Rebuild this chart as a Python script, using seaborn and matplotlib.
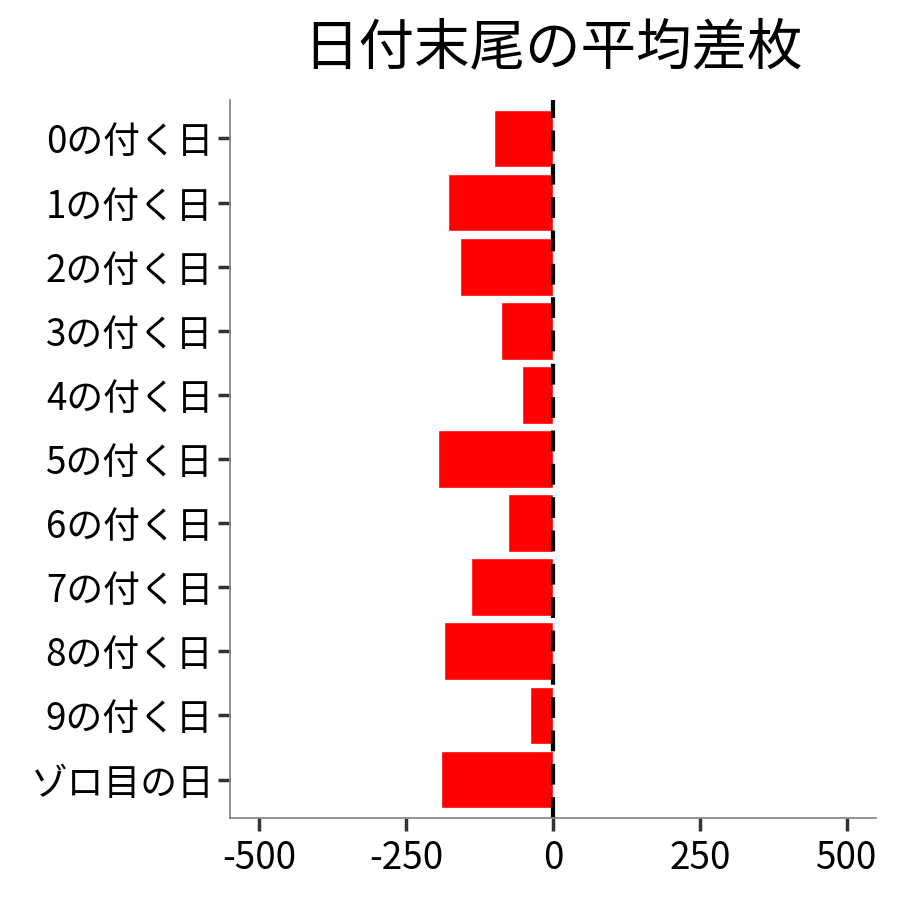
import numpy as np
import pandas as pd
import matplotlib
matplotlib.use("Agg")
import matplotlib.pyplot as plt
import seaborn as sb

# data
days = ["0の付く日", "1の付く日", "2の付く日", "3の付く日", "4の付く日", "5の付く日",
        "6の付く日", "7の付く日", "8の付く日", "9の付く日", "ゾロ目の日"]
avg_diff = [-100, -179, -158, -89, -52, -195, -77, -139, -186, -40, -190]
xticks = [-500, -250, 0, 250, 500]

df = pd.DataFrame({"day": days, "diff": avg_diff})

sb.set_style("white")
plt.rcParams['font.family'] = ['Noto Sans CJK JP', 'DejaVu Sans']

fig = plt.figure(figsize=(9, 9), dpi=100)
ax = fig.add_axes([230 / 900, 82 / 900, 646 / 900, 718 / 900])

sb.barplot(data=df, x="diff", y="day", color="#ff0000", saturation=1,
           width=0.9, orient="h", ax=ax)
ax.axvline(0, color="black", linestyle=(0, (5, 3)), linewidth=3)

ax.set_xlim(-550, 550)
ax.set_ylim(len(days) - 0.4, -0.6)
ax.set_xticks(xticks)
ax.set_xticklabels([str(t) for t in xticks])
ax.set_xlabel("")
ax.set_ylabel("")
ax.set_title("日付末尾の平均差枚", fontsize=40, pad=26, color="black")

for s in ["top", "right"]:
    ax.spines[s].set_visible(False)
for s in ["left", "bottom"]:
    ax.spines[s].set_color("#808080")
    ax.spines[s].set_linewidth(1.2)
ax.tick_params(axis="both", bottom=True, left=True, length=9, width=2.5,
               color="#333333", labelsize=26.5, labelcolor="black",
               direction="out", pad=3)
ax.tick_params(axis="x", pad=6)

fig.savefig("out.png", dpi=100)
